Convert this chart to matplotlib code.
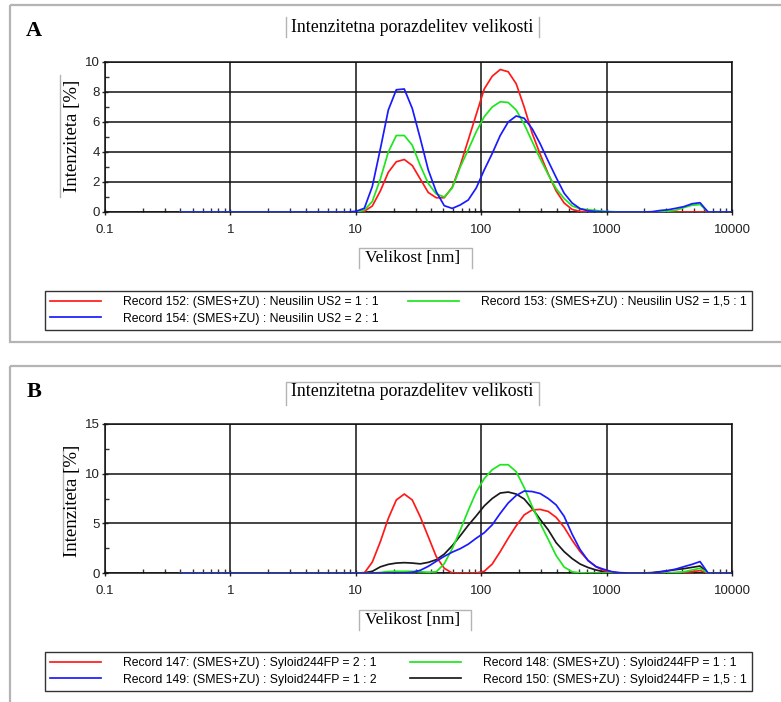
import matplotlib
matplotlib.use("Agg")
import matplotlib.pyplot as plt
from matplotlib.lines import Line2D
from matplotlib.patches import Rectangle
from matplotlib.ticker import LogLocator, FuncFormatter, MultipleLocator, NullFormatter

# Zetasizer size classes [nm]
SIZES = [0.4, 0.4632, 0.5365, 0.6213, 0.7195, 0.8332, 0.9649, 1.117, 1.294, 1.499,
         1.736, 2.010, 2.328, 2.696, 3.122, 3.615, 4.187, 4.849, 5.615, 6.503,
         7.531, 8.721, 10.10, 11.70, 13.54, 15.69, 18.17, 21.04, 24.36, 28.21,
         32.67, 37.84, 43.82, 50.75, 58.77, 68.06, 78.82, 91.28, 105.7, 122.4,
         141.8, 164.2, 190.1, 220.2, 255.0, 295.3, 342.0, 396.1, 458.7, 531.2,
         615.1, 712.4, 825.0, 955.4, 1106, 1281, 1484, 1718, 1990, 2305,
         2669, 3091, 3580, 4145, 4801, 5560, 6439, 7456, 8635, 10000]

# intensity [%] per size class, panel A (Neusilin US2)
rec152 = [0, 0, 0, 0, 0, 0, 0, 0, 0, 0,
          0, 0, 0, 0, 0, 0, 0, 0, 0, 0,
          0, 0, 0, 0.05, 0.4, 1.4, 2.65, 3.35, 3.5, 3.1,
          2.2, 1.3, 0.95, 0.95, 1.65, 3.1, 4.8, 6.5, 8.2, 9.05,
          9.5, 9.35, 8.55, 7.0, 5.25, 3.85, 2.55, 1.4, 0.6, 0.17,
          0.04, 0, 0, 0, 0, 0, 0, 0, 0, 0,
          0, 0, 0, 0, 0, 0, 0, 0, 0, 0]
rec153 = [0, 0, 0, 0, 0, 0, 0, 0, 0, 0,
          0, 0, 0, 0, 0, 0, 0, 0, 0, 0,
          0, 0, 0, 0.13, 0.7, 2.2, 4.0, 5.1, 5.1, 4.45,
          3.1, 1.9, 1.2, 1.0, 1.6, 3.0, 4.15, 5.35, 6.35, 7.0,
          7.35, 7.3, 6.8, 5.85, 4.7, 3.55, 2.5, 1.55, 0.9, 0.4,
          0.22, 0.15, 0.1, 0.05, 0.02, 0, 0, 0, 0, 0,
          0, 0.05, 0.12, 0.3, 0.45, 0.5, 0, 0, 0, 0]
rec154 = [0, 0, 0, 0, 0, 0, 0, 0, 0, 0,
          0, 0, 0, 0, 0, 0, 0, 0, 0, 0,
          0, 0, 0.05, 0.25, 1.7, 4.2, 6.8, 8.15, 8.2, 6.9,
          4.9, 2.8, 1.35, 0.42, 0.24, 0.47, 0.8, 1.6, 2.8, 3.9,
          5.1, 6.0, 6.4, 6.25, 5.55, 4.55, 3.4, 2.3, 1.25, 0.6,
          0.22, 0.08, 0.03, 0.01, 0, 0, 0, 0, 0, 0.02,
          0.1, 0.15, 0.25, 0.36, 0.55, 0.62, 0, 0, 0, 0]

# intensity [%] per size class, panel B (Syloid 244FP)
rec147 = [0, 0, 0, 0, 0, 0, 0, 0, 0, 0,
          0, 0, 0, 0, 0, 0, 0, 0, 0, 0,
          0, 0, 0, 0, 1.1, 3.15, 5.5, 7.35, 7.95, 7.35,
          5.65, 3.65, 1.65, 0.47, 0, 0, 0, 0, 0.17, 0.9,
          2.15, 3.5, 4.75, 5.85, 6.35, 6.4, 6.2, 5.6, 4.6, 3.3,
          2.15, 1.25, 0.62, 0.24, 0.05, 0, 0, 0, 0, 0,
          0, 0.02, 0.03, 0.07, 0.13, 0.24, 0, 0, 0, 0]
rec148 = [0, 0, 0, 0, 0, 0, 0, 0, 0, 0,
          0, 0, 0, 0, 0, 0, 0, 0, 0, 0,
          0, 0, 0, 0, 0, 0.05, 0.15, 0.17, 0.17, 0.17,
          0.12, 0.08, 0.12, 0.94, 2.45, 4.3, 6.3, 8.15, 9.5, 10.4,
          10.9, 10.9, 10.2, 8.6, 6.7, 5.0, 3.4, 1.75, 0.6, 0.12,
          0.02, 0, 0, 0, 0, 0, 0, 0, 0, 0,
          0, 0, 0.05, 0.13, 0.3, 0.47, 0, 0, 0, 0]
rec149 = [0, 0, 0, 0, 0, 0, 0, 0, 0, 0,
          0, 0, 0, 0, 0, 0, 0, 0, 0, 0,
          0, 0, 0, 0, 0, 0, 0, 0, 0, 0.07,
          0.27, 0.67, 1.18, 1.68, 2.1, 2.45, 2.9, 3.5, 4.05, 4.85,
          6.0, 7.05, 7.8, 8.25, 8.2, 8.0, 7.5, 6.85, 5.7, 3.9,
          2.35, 1.25, 0.64, 0.36, 0.13, 0.03, 0, 0, 0, 0,
          0.1, 0.23, 0.4, 0.64, 0.87, 1.15, 0, 0, 0, 0]
rec150 = [0, 0, 0, 0, 0, 0, 0, 0, 0, 0,
          0, 0, 0, 0, 0, 0, 0, 0, 0, 0,
          0, 0, 0, 0.03, 0.17, 0.62, 0.87, 1.0, 1.04, 1.0,
          0.92, 1.07, 1.34, 1.9, 2.75, 3.75, 4.8, 5.75, 6.75, 7.5,
          8.05, 8.15, 7.95, 7.45, 6.5, 5.4, 4.35, 3.05, 2.15, 1.45,
          0.9, 0.55, 0.3, 0.12, 0.04, 0, 0, 0, 0, 0.04,
          0.13, 0.23, 0.34, 0.44, 0.57, 0.7, 0, 0, 0, 0]

RED, GREEN, BLUE, BLACK = "#ff1a1a", "#1ee61e", "#1a1aff", "#1a1a1a"

# (legend label, colour, values); list order = legend order (column-wise)
series_a = [
    ("Record 152: (SMES+ZU) : Neusilin US2 = 1 : 1", RED, rec152),
    ("Record 154: (SMES+ZU) : Neusilin US2 = 2 : 1", BLUE, rec154),
    ("Record 153: (SMES+ZU) : Neusilin US2 = 1,5 : 1", GREEN, rec153),
]
draw_order_a = [0, 2, 1]
series_b = [
    ("Record 147: (SMES+ZU) : Syloid244FP = 2 : 1", RED, rec147),
    ("Record 149: (SMES+ZU) : Syloid244FP = 1 : 2", BLUE, rec149),
    ("Record 148: (SMES+ZU) : Syloid244FP = 1 : 1", GREEN, rec148),
    ("Record 150: (SMES+ZU) : Syloid244FP = 1,5 : 1", BLACK, rec150),
]
draw_order_b = [3, 0, 2, 1]

TITLE = "Intenzitetna porazdelitev velikosti"
XLABEL = "Velikost [nm]"
YLABEL = "Intenziteta [%]"

SERIF = ["Liberation Serif", "DejaVu Serif"]
SANS = ["Liberation Sans", "DejaVu Sans"]
BOXGRAY = "#b4b4b4"

W, H = 781, 702
fig = plt.figure(figsize=(W / 100, H / 100), dpi=100)

# pixel-space layer for frames, headings and label boxes
deco = fig.add_axes([0, 0, 1, 1], zorder=0)
deco.set_xlim(0, W)
deco.set_ylim(H, 0)
deco.axis("off")


def px_axes(left, top, right, bottom):
    return fig.add_axes([left / W, 1 - bottom / H, (right - left) / W, (bottom - top) / H], zorder=2)


def seg(xs, ys, color=BOXGRAY, lw=1.0):
    deco.add_line(Line2D(xs, ys, color=color, lw=lw))


def draw_panel(ax, series, order, ymax, ystep):
    for i in order:
        label, color, vals = series[i]
        ax.plot(SIZES, vals, color=color, lw=1.25, zorder=3)
    ax.set_xscale("log")
    ax.set_xlim(0.1, 10000)
    ax.set_ylim(0, ymax)
    ax.xaxis.set_major_locator(LogLocator(base=10, numticks=10))
    ax.xaxis.set_minor_locator(LogLocator(base=10, subs=range(2, 10), numticks=10))
    ax.xaxis.set_major_formatter(FuncFormatter(lambda v, p: f"{v:g}"))
    ax.xaxis.set_minor_formatter(NullFormatter())
    ax.yaxis.set_major_locator(MultipleLocator(ystep))
    ax.yaxis.set_minor_locator(MultipleLocator(ystep / 2))
    ax.grid(which="major", color="#111111", lw=1.1, zorder=1)
    ax.tick_params(which="major", direction="inout", length=5, width=1, color="#222222",
                   labelsize=9.5, labelcolor="#222222")
    ax.tick_params(which="minor", direction="in", length=3, width=1, color="#333333")
    ax.tick_params(axis="x", which="major", pad=6)
    ax.tick_params(axis="y", which="major", pad=1)
    for lab in ax.get_xticklabels() + ax.get_yticklabels():
        lab.set_family(SANS)
    for sp in ax.spines.values():
        sp.set_color("#111111")
        sp.set_linewidth(1.1)
    ax.set_facecolor("white")


def legend_box(series, top, bottom):
    handles = [Line2D([], [], color=c, lw=1.25) for _, c, _ in series]
    labels = [lab for lab, _, _ in series]
    leg = fig.legend(handles, labels, loc="center left", mode="expand", ncol=2,
                     bbox_to_anchor=(45 / W, 1 - bottom / H, 707 / W, (bottom - top) / H),
                     prop={"family": SANS, "size": 8.8}, handlelength=4.2, handletextpad=1.8,
                     labelspacing=0.35, borderpad=0.4, borderaxespad=0,
                     fancybox=False, framealpha=1, edgecolor="#333333")
    leg.get_frame().set_linewidth(1.0)
    return leg


# panel frames
deco.add_patch(Rectangle((10, 5), 790, 337, fill=False, ec=BOXGRAY, lw=1.6))
deco.add_patch(Rectangle((10, 366), 790, 400, fill=False, ec=BOXGRAY, lw=1.6))

# panel A
ax_a = px_axes(105, 62, 732, 212)
draw_panel(ax_a, series_a, draw_order_a, 10, 2)
deco.text(34, 31, "A", family=SERIF, weight="bold", size=16, ha="center", va="center")
deco.text(412, 27, TITLE, family=SERIF, size=12.8, ha="center", va="center")
seg([286, 286], [17, 37])
seg([539, 539], [17, 37])
deco.text(72, 136, YLABEL, family=SERIF, size=13.5, rotation=90, ha="center", va="center")
seg([60, 60], [75, 197])
deco.text(413, 258, XLABEL, family=SERIF, size=12.5, ha="center", va="center")
seg([359, 359, 472, 472], [268, 248, 248, 268])
legend_box(series_a, 290, 331)

# panel B
ax_b = px_axes(105, 424, 732, 573)
draw_panel(ax_b, series_b, draw_order_b, 15, 5)
deco.text(34, 392, "B", family=SERIF, weight="bold", size=16, ha="center", va="center")
deco.text(412, 392, TITLE, family=SERIF, size=12.8, ha="center", va="center")
seg([286, 286, 539, 539], [405, 382, 382, 405])
deco.text(73, 501, YLABEL, family=SERIF, size=13.5, rotation=90, ha="center", va="center")
seg([63, 63], [450, 552])
deco.text(413, 620, XLABEL, family=SERIF, size=12.5, ha="center", va="center")
seg([359, 359, 471, 471], [630, 610, 610, 630])
legend_box(series_b, 652, 691)

fig.savefig("out.png", dpi=100, facecolor="white")
